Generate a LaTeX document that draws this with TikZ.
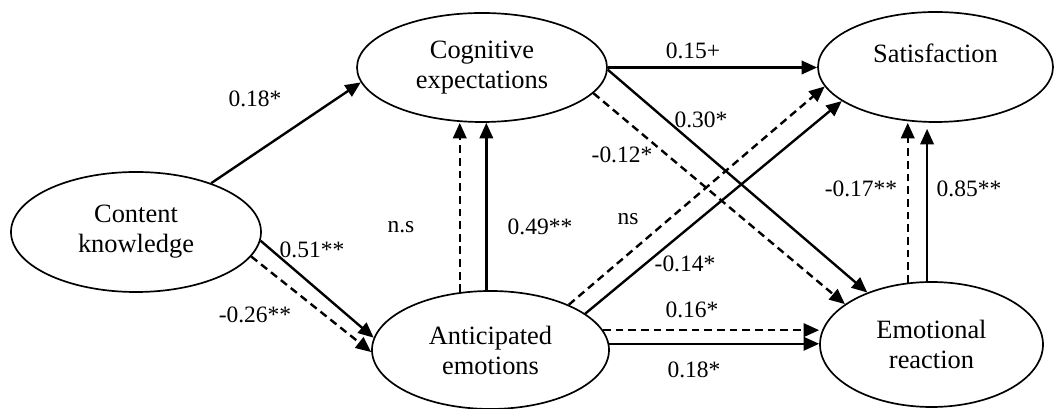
\documentclass[tikz,border=0pt]{standalone}
\usepackage{fontspec}
\setmainfont{Liberation Serif}
\usetikzlibrary{shapes.geometric,arrows.meta}

\begin{document}
\begin{tikzpicture}[
	latent/.style={draw, ellipse, line width=1.2pt, inner sep=0pt, align=center, font=\fontsize{18.8}{21.3}\selectfont},
	coef/.style={anchor=base, inner sep=0pt, font=\fontsize{16.7}{20}\selectfont},
	eff/.style={-{Triangle[length=11pt,width=9.5pt]}, line width=1.7pt},
	effdash/.style={eff, dash pattern=on 5.5pt off 3.5pt}]
	\useasboundingbox (0,0) rectangle (26.35,10.225);
	\node[latent, minimum width=6.25cm, minimum height=3cm] (ck) at (3.4,4.425) {Content\\knowledge};
	\node[latent, minimum width=6.25cm, minimum height=2.725cm] (ce) at (12.05,8.5375) {Cognitive\\expectations};
	\node[latent, minimum width=5.875cm, minimum height=2.75cm, text depth=0.7cm] (sat) at (23.3875,8.55) {Satisfaction};
	\node[latent, minimum width=5.925cm, minimum height=2.95cm] (ae) at (12.2625,1.475) {Anticipated\\emotions};
	\node[latent, minimum width=5.575cm, minimum height=3.125cm] (er) at (23.2875,1.6125) {Emotional\\reaction};
	\draw[eff] (ck.33) -- (ce.187);
	\draw[eff] (ck.-4) -- (ae.174);
	\draw[effdash] (ck.-12) -- (ae.181);
	\draw[effdash] (ae.118) -- (ae.118 |- ce.south);
	\draw[eff] (ae.94) -- (ae.94 |- ce.south);
	\draw[eff] (ce.east) -- (ce.east -| sat.west);
	\draw[eff] (ce.-1) -- (er.141);
	\draw[effdash] (ce.-13) -- (er.155);
	\draw[effdash] (ae.30) -- (sat.190);
	\draw[eff] (ae.21) -- (sat.200);
	\draw[effdash] (ae.10) -- (ae.10 -| er.west);
	\draw[eff] (ae.3) -- (ae.3 -| er.west);
	\draw[effdash] (er.111) -- (er.111 |- sat.south);
	\draw[eff, shorten >=0.15cm] (er.94) -- (er.94 |- sat.south);
	\node[coef] (b1) at (6.375,7.55) {0.18*};
	\node[coef] (b2) at (7.8,3.775) {0.51**};
	\node[coef] (b3) at (6.375,2.15) {-0.26**};
	\node[coef] (b4) at (10.025,4.4) {n.s};
	\node[coef] (b5) at (13.5,4.35) {0.49**};
	\node[coef] (b6) at (17.325,8.75) {0.15+};
	\node[coef] (b7) at (17.525,7.025) {0.30*};
	\node[coef] (b8) at (15.55,6.15) {-0.12*};
	\node[coef] (b9) at (15.7,4.6) {ns};
	\node[coef] (b10) at (17.125,3.425) {-0.14*};
	\node[coef] (b11) at (17.3,2.275) {0.16*};
	\node[coef] (b12) at (17.35,0.775) {0.18*};
	\node[coef] (b13) at (21.525,5.3) {-0.17**};
	\node[coef] (b14) at (24.225,5.3) {0.85**};
\end{tikzpicture}
\end{document}
